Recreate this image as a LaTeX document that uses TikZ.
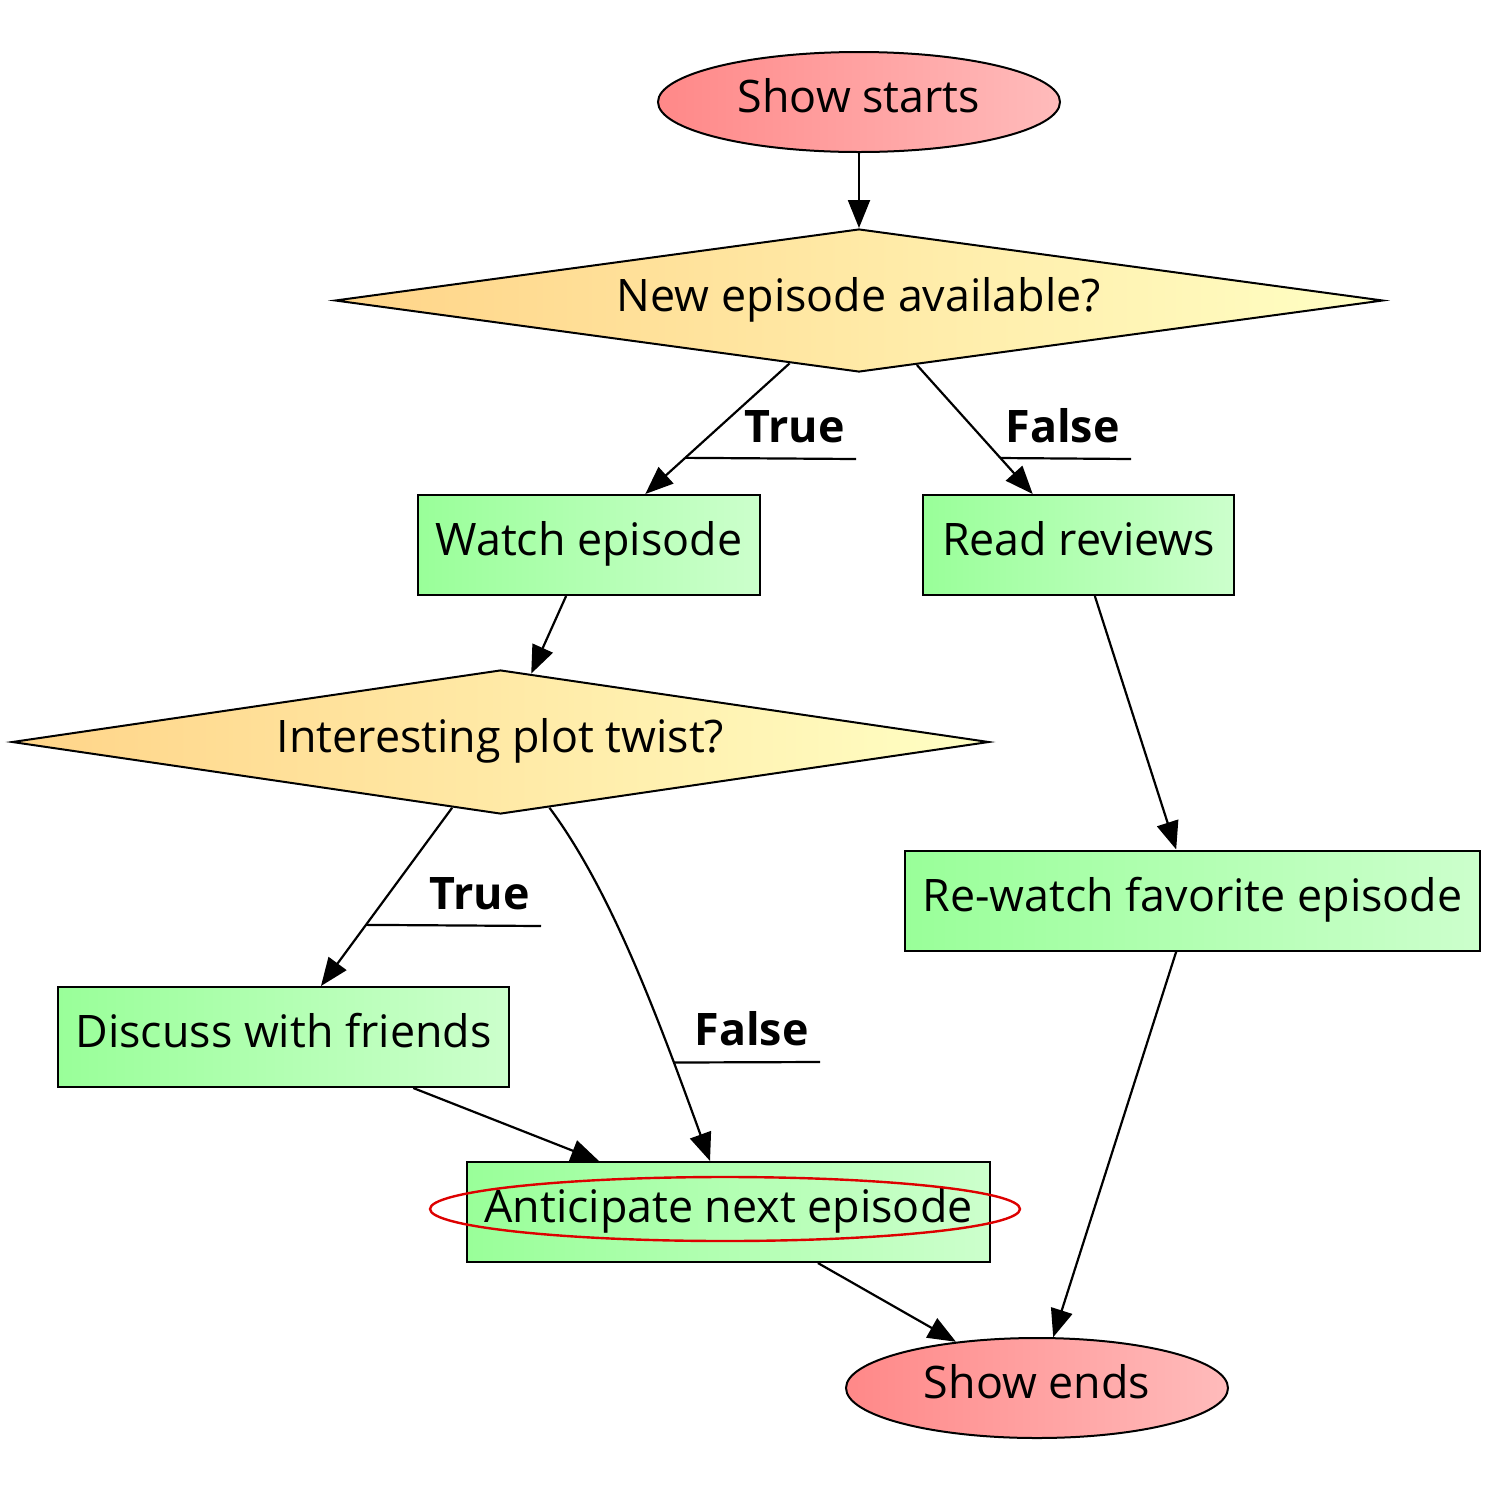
\documentclass[tikz,border=0pt]{standalone}
\usepackage{fontspec}
\setmainfont{Open Sans}
\usetikzlibrary{shapes.geometric,arrows.meta}
\definecolor{termL}{HTML}{FF8888}
\definecolor{termR}{HTML}{FFBBBB}
\definecolor{decL}{HTML}{FFD488}
\definecolor{decR}{HTML}{FFFFC4}
\definecolor{procL}{HTML}{99FF99}
\definecolor{procR}{HTML}{CCFFCC}
\definecolor{ringred}{HTML}{DD0000}
\tikzset{
  txt/.style={font=\fontsize{22.4}{27}\selectfont,text height=16pt,text depth=5.5pt},
  terminal/.style={txt,ellipse,draw,line width=1pt,left color=termL,right color=termR,inner sep=0pt,minimum height=50pt},
  decision/.style={txt,diamond,draw,line width=1pt,left color=decL,right color=decR,inner sep=0pt,aspect=7},
  process/.style={txt,rectangle,draw,line width=1pt,left color=procL,right color=procR,inner sep=0pt,minimum height=50pt},
  edgelabel/.style={font=\bfseries\fontsize{22.4}{27}\selectfont,inner xsep=5.5pt,inner ysep=8pt,text height=16pt,text depth=0pt,anchor=south east},
  flow/.style={line width=1.1pt,-{Triangle[length=14pt,width=11pt]}},
  underline/.style={line width=1.1pt},
}
\begin{document}
\begin{tikzpicture}[x=0.5pt,y=-0.5pt]
			\useasboundingbox (0,0) rectangle (1506,1506);
			\node[terminal,minimum width=201pt](start) at (859,102){Show starts};
			\node[decision,minimum width=524pt,minimum height=71.5pt](new) at (859,300.5){New episode available?};
			\node[process,minimum width=171pt](watch) at (589,545){Watch episode};
			\node[process,minimum width=155.5pt](read) at (1078.5,545){Read reviews};
			\node[decision,minimum width=488.5pt,minimum height=72pt](twist) at (500.5,742){Interesting plot twist?};
			\node[process,minimum width=287.5pt](rewatch) at (1192.5,900.5){Re-watch favorite episode};
			\node[process,minimum width=225.5pt](discuss) at (283.5,1037){Discuss with friends};
			\node[process,minimum width=261.5pt](anticipate) at (728.5,1212){Anticipate next episode};
			\node[terminal,minimum width=191pt](ends) at (1037,1388){Show ends};
			\node[edgelabel](newtrue) at (856,459){True};
			\node[edgelabel](newfalse) at (1131,459){False};
			\node[edgelabel](twisttrue) at (541,926){True};
			\node[edgelabel](twistfalse) at (820,1062){False};
			\draw[flow] (start)--(new);
			\draw[flow] (new)--(watch) coordinate[pos=0.723](nt);
			\draw[flow] (new)--(read) coordinate[pos=0.721](nf);
			\draw[flow] (watch)--(twist);
			\draw[flow] (read)--(rewatch);
			\draw[flow] (twist)--(discuss) coordinate[pos=0.657](tt);
			\draw[flow] (twist) .. controls (610,889) and (656,1012) .. (anticipate) coordinate[pos=0.77](tf);
			\draw[flow] (discuss)--(anticipate);
			\draw[flow] (rewatch)--(ends);
			\draw[flow] (anticipate)--(ends);
			\draw[underline] (nt)--(newtrue.south east);
			\draw[underline] (nf)--(newfalse.south east);
			\draw[underline] (tt)--(twisttrue.south east);
			\draw[underline] (tf)--(twistfalse.south east);
			\draw[ringred,line width=1.2pt] (725,1209) ellipse [x radius=295,y radius=32];
		\end{tikzpicture}
\end{document}
